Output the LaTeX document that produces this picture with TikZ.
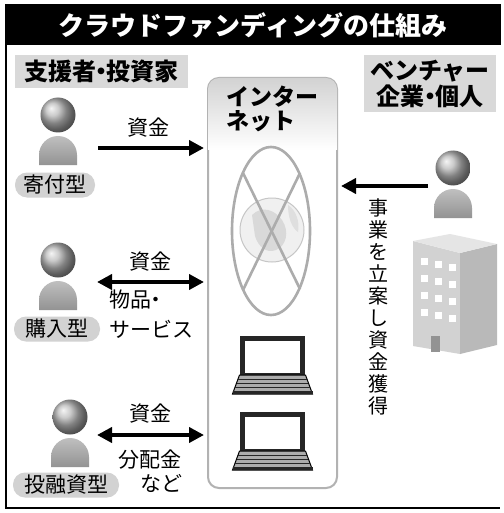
\documentclass[tikz,border=0pt]{standalone}
\usepackage{fontspec}
\setmainfont{Noto Sans CJK JP}
\usetikzlibrary{arrows.meta,shapes.geometric}

% narrow middle dot between words
\newcommand{\ndot}{\hbox to 0.45em{\hss・\hss}}

\tikzset{
  jtext/.style={font=\fontsize{#1}{#1}\selectfont, inner sep=0pt},
  grouplabel/.style={fill=gray!30, inner sep=0pt, font=\fontsize{24}{26}\selectfont\bfseries, align=center},
  typepill/.style={fill=gray!35, rounded corners=12pt, inner sep=0pt, minimum height=25pt, font=\fontsize{21}{21}\selectfont},
  fund/.style={line width=4pt, -{Triangle[length=15pt,width=15pt]}},
  fundboth/.style={line width=4pt, {Triangle[length=15pt,width=15pt]}-{Triangle[length=15pt,width=15pt]}},
  person/.pic={
    \shade[ball color=gray!55] (0,0) circle (17.5);
    \shade[top color=gray!50, bottom color=gray!85]
      (-19,50) -- (-19,40) arc (180:360:19) -- (19,50) -- cycle;
  },
  laptop/.pic={
    \draw[line width=5pt, draw=black!85, fill=white] (-30,-37) rectangle (30,0);
    \filldraw[fill=gray!65, draw=black, line width=1pt]
      (-33,0) -- (33,0) -- (40,19) -- (-40,19) -- cycle;
    \foreach \k in {4,8,12} \draw[black!85, line width=1pt] (-33-\k*0.35,\k) -- (33+\k*0.35,\k);
    \draw[black!85, line width=2.5pt] (-40,17.5) -- (40,17.5);
  }
}

\begin{document}
\begin{tikzpicture}[x=1pt,y=-1pt]
\useasboundingbox (0,0) rectangle (503,513);
\fill[white] (0,0) rectangle (503,513);

% title bar and frame
\fill[black] (5,4) rectangle (501,45);
\node[inner sep=0pt, text=white, font=\fontsize{26}{26}\selectfont\bfseries] (title) at (253,25) {クラウドファンディングの仕組み};
\draw[line width=1.3pt] (6,45) -- (6,508) -- (500,508);

% group headings
\node[grouplabel, minimum width=173pt, minimum height=33pt] (donors) at (101.5,71.5) {支援者\ndot 投資家};
\node[grouplabel, minimum width=132pt, minimum height=57pt] (venture) at (430,83.5) {ベンチャー\\企業\ndot 個人};

% internet column
\node[draw=gray!60, line width=2pt, rounded corners=11pt, minimum width=129pt, minimum height=410pt, inner sep=0pt] (net) at (272.5,283) {};
\begin{scope}
  \clip[rounded corners=11pt] (208,78) rectangle (337,488);
  \shade[top color=gray!35, bottom color=white] (208,78) rectangle (337,150);
\end{scope}
\node[font=\fontsize{23}{24}\selectfont\bfseries, inner sep=0pt, align=left, anchor=north west] (nettext) at (226,86) {インター\\ネット};

% crossed-out globe
\fill[gray!12] (272,230) circle (32);
\fill[gray!30] (252,215) .. controls (262,205) and (275,210) .. (282,220)
  .. controls (290,232) and (286,246) .. (276,250) .. controls (266,254) and (258,246) .. (255,236) -- cycle;
\fill[gray!25] (288,205) .. controls (296,210) and (300,222) .. (298,232) .. controls (292,228) and (288,218) .. cycle;
\draw[gray!45, line width=1pt] (272,230) circle (32);
\node[draw=gray!65, line width=2.6pt, ellipse, minimum width=78pt, minimum height=168pt, inner sep=0pt] (globe) at (271,231) {};
\coordinate (xa) at (243,173);
\coordinate (xb) at (300,289);
\coordinate (xc) at (300,173);
\coordinate (xd) at (243,290);
\draw[gray!65, line width=2.6pt] (xa) -- (xb);
\draw[gray!65, line width=2.6pt] (xc) -- (xd);

% laptops
\pic (pc1) at (272.5,375) {laptop};
\pic (pc2) at (272.5,451) {laptop};

% supporters
\pic (p1) at (58,115) {person};
\pic (p2) at (58,260) {person};
\pic (p3) at (70,417) {person};
\node[typepill, minimum width=80pt] (kifu) at (55,185) {寄付型};
\node[typepill, minimum width=86pt] (kounyu) at (57,329) {購入型};
\node[typepill, minimum width=106pt] (yuushi) at (66,485) {投融資型};

% money flows
\coordinate (a1s) at (98,148);  \coordinate (a1e) at (204,148);
\coordinate (a2s) at (97,282);  \coordinate (a2e) at (204,282);
\coordinate (a3s) at (97,435);  \coordinate (a3e) at (204,435);
\draw[fund] (a1s) -- (a1e);
\draw[fundboth] (a2s) -- (a2e);
\draw[fundboth] (a3s) -- (a3e);
\node[jtext=21] (m1) at (148,128) {資金};
\node[jtext=21] (m2) at (150,262) {資金};
\node[jtext=21, anchor=west] (goods) at (109,300) {物品\ndot};
\node[jtext=21, anchor=west] (service) at (109,329) {サービス};
\node[jtext=21] (m3) at (150,414) {資金};
\node[jtext=21] (share) at (150,460) {分配金};
\node[jtext=21] (etc) at (161,483) {など};

% venture side
\pic (p4) at (453,168) {person};
\coordinate (a4s) at (428,186);
\coordinate (a4e) at (341,186);
\draw[fund] (a4s) -- (a4e);
\node[font=\fontsize{20}{22}\selectfont, inner sep=0pt, align=center, anchor=north] (plan) at (378,198)
  {事\\業\\を\\立\\案\\し\\資\\金\\獲\\得};

% office building
\fill[gray!35] (413,241) -- (460,253) -- (460,354) -- (413,346) -- cycle;
\fill[gray!55] (460,253) -- (497,244) -- (497,345) -- (460,354) -- cycle;
\fill[gray!20] (413,241) -- (450,234) -- (497,244) -- (460,253) -- cycle;
\foreach \r in {0,1,2,3}
  \foreach \c in {0,1,2}
    \fill[white] ({421+\c*14},{258+\r*17+\c*3}) rectangle ++(7,7);
\fill[gray!85] (431,336) rectangle (440,352);
\end{tikzpicture}
\end{document}
